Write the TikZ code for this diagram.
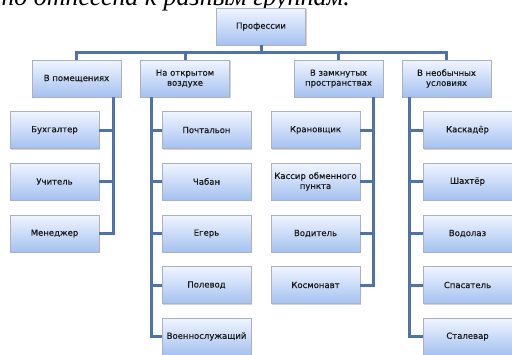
\documentclass[tikz,border=0pt]{standalone}
\usepackage{fontspec}
\setmainfont{DejaVu Sans}
\newfontfamily\boxfont[FakeBold=0.4]{DejaVu Sans}
\newfontfamily\serifit{Liberation Serif}
\usetikzlibrary{shadows}
\definecolor{conn}{RGB}{79,114,170}
\definecolor{boxtop}{RGB}{240,245,255}
\definecolor{boxbot}{RGB}{165,193,240}
\definecolor{boxline}{RGB}{170,178,192}
\begin{document}
\begin{tikzpicture}[x=1pt,y=-1pt,
 box/.style={rectangle, draw=boxline, line width=0.6pt, top color=boxtop, bottom color=boxbot,
   minimum width=89pt, minimum height=37pt, inner sep=1pt, align=center,
   font=\boxfont\fontsize{8.5}{10}\selectfont, text=black!90,
   drop shadow={shadow xshift=1.2pt, shadow yshift=-1.2pt, opacity=0.35}},
 link/.style={draw=conn, line width=3pt}]
\useasboundingbox (0,0) rectangle (512,354);
\node[font=\serifit\itshape\fontsize{26}{30}\selectfont, anchor=base east, inner sep=0] (title) at (350,5.5) {но отнесена к разным группам.};

\node[box] (root) at (261,26.5) {Профессии};
\node[box] (p1) at (76.5,78.5) {В помещениях};
\node[box] (p2) at (185,78.5) {На открытом\\воздухе};
\node[box] (p3) at (338.5,78.5) {В замкнутых\\пространствах};
\node[box] (p4) at (446.5,78.5) {В необычных\\условиях};

\node[box] (a1) at (54.5,130) {Бухгалтер};
\node[box] (a2) at (54.5,181.5) {Учитель};
\node[box] (a3) at (54.5,233.5) {Менеджер};

\node[box] (b1) at (206.5,130) {Почтальон};
\node[box] (b2) at (206.5,181.5) {Чабан};
\node[box] (b3) at (206.5,233.5) {Егерь};
\node[box] (b4) at (206.5,285) {Полевод};
\node[box] (b5) at (206.5,336.5) {Военнослужащий};

\node[box] (c1) at (315.5,130) {Крановщик};
\node[box] (c2) at (315.5,181.5) {Кассир обменного\\пункта};
\node[box] (c3) at (315.5,233.5) {Водитель};
\node[box] (c4) at (315.5,285) {Космонавт};

\node[box] (d1) at (467.5,130) {Каскадёр};
\node[box] (d2) at (467.5,181.5) {Шахтёр};
\node[box] (d3) at (467.5,233.5) {Водолаз};
\node[box] (d4) at (467.5,285) {Спасатель};
\node[box] (d5) at (467.5,336.5) {Сталевар};

% top level bus
\coordinate (bus) at (0,52);
\draw[link] (root.south) -- (root.south |- bus);
\foreach \p in {p1,p2,p3,p4}
  \draw[link] (\p.north) |- (root.south |- bus);

% trunks
\coordinate (t1) at ([xshift=36.5pt]p1.south);
\coordinate (t2) at ([xshift=-34pt]p2.south);
\coordinate (t3) at ([xshift=34.5pt]p3.south);
\coordinate (t4) at ([xshift=-37.5pt]p4.south);

\draw[link] (t1) |- (a3.east);
\foreach \c in {a1,a2} \draw[link] (\c.east) -- (\c.east -| t1);
\draw[link] (t2) |- (b5.west);
\foreach \c in {b1,b2,b3,b4} \draw[link] (\c.west) -- (\c.west -| t2);
\draw[link] (t3) |- (c4.east);
\foreach \c in {c1,c2,c3} \draw[link] (\c.east) -- (\c.east -| t3);
\draw[link] (t4) |- (d5.west);
\foreach \c in {d1,d2,d3,d4} \draw[link] (\c.west) -- (\c.west -| t4);
\end{tikzpicture}
\end{document}
